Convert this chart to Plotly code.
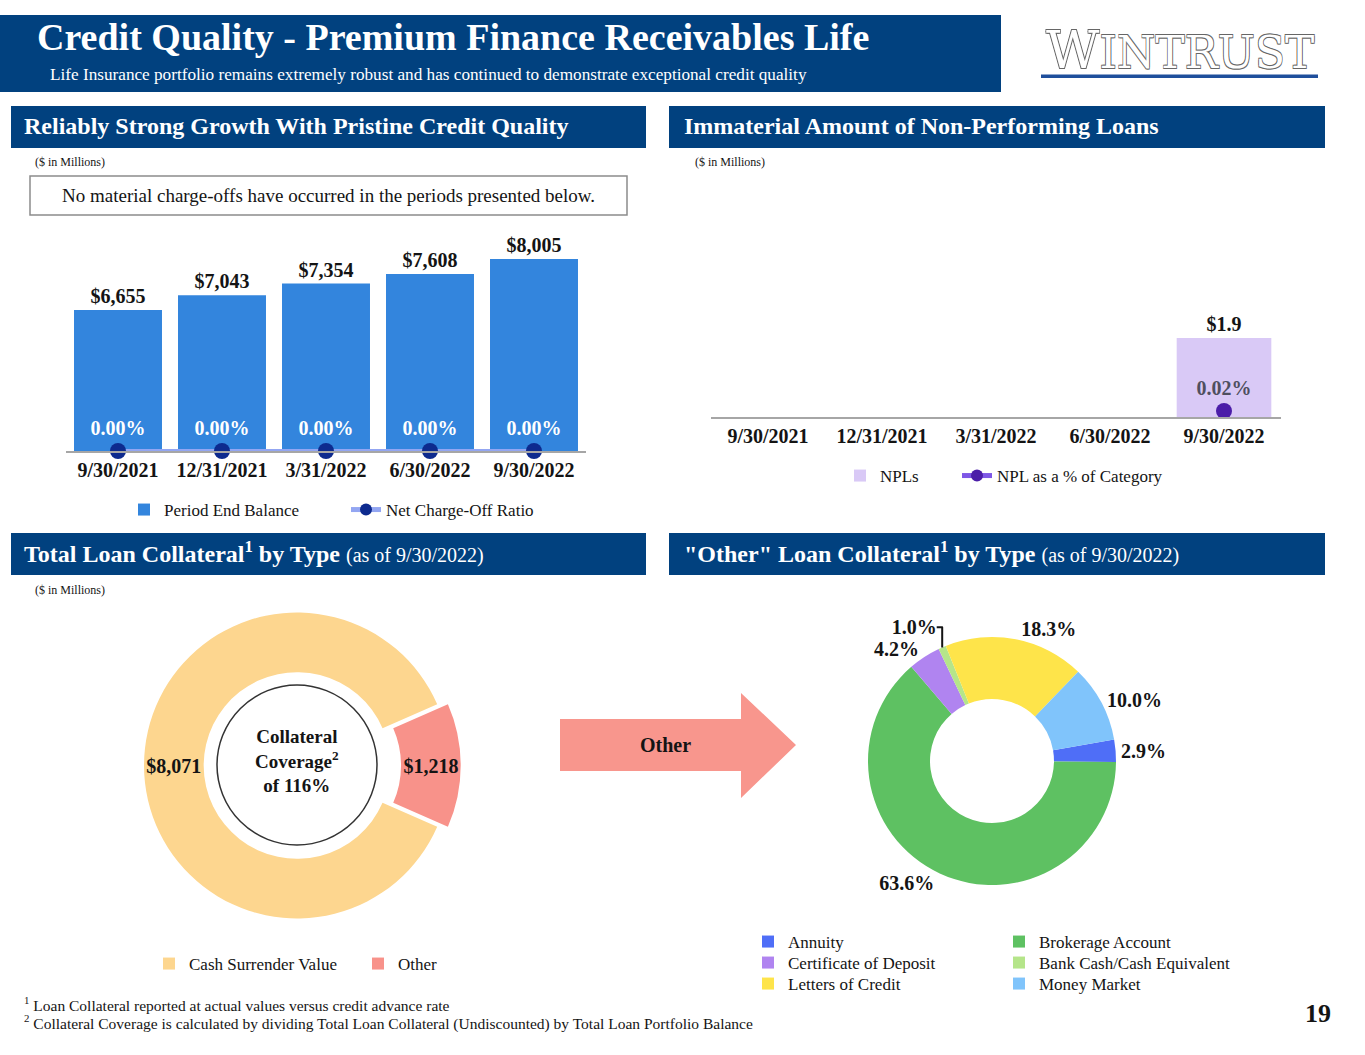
import plotly.graph_objects as go

W, H = 1365, 1055
def fx(x):
    return x / W
def fy(y):
    return 1 - y / H

FONT = "Liberation Serif, Times New Roman, serif"
NAVY = "#01417F"
INK = "#141414"

# ---------------- data ----------------
periods = ["9/30/2021", "12/31/2021", "3/31/2022", "6/30/2022", "9/30/2022"]
period_end_balance = [6655, 7043, 7354, 7608, 8005]
net_charge_off_ratio = [0.00, 0.00, 0.00, 0.00, 0.00]
npls = [0, 0, 0, 0, 1.9]
npl_pct = [None, None, None, None, 0.02]
collateral_labels = ["Cash Surrender Value", "Other"]
collateral_values = [8071, 1218]
collateral_coverage = 116
other_labels = ["Annuity", "Brokerage Account", "Certificate of Deposit",
                "Bank Cash/Cash Equivalent", "Letters of Credit", "Money Market"]
other_pcts = [2.9, 63.6, 4.2, 1.0, 18.3, 10.0]

# ---------------- styles ----------------
bar_blue = "#3385DD"
nco_line = "#93A6F2"
nco_marker = "#0D2A8E"
npl_bar = "#D9C9F6"
npl_line = "#7E57E6"
npl_marker = "#4B1DA8"
collateral_colors = ["#FDD68F", "#F8928A"]
other_colors = ["#4F6EF7", "#5EC162", "#B084F0", "#B5E58A", "#FEE44A", "#80C4FB"]

fig = go.Figure()

# Chart 1: period end balance bars + NCO ratio
fig.add_trace(go.Bar(
    x=periods, y=period_end_balance, name="Period End Balance",
    marker=dict(color=bar_blue, line=dict(width=0)), width=0.846,
    text=[f"${v:,}" for v in period_end_balance], textposition="outside",
    textfont=dict(family=FONT, size=20, color=INK, weight="bold"),
    cliponaxis=False, xaxis="x", yaxis="y", legend="legend", legendwidth=177,
    hoverinfo="skip"))
fig.add_trace(go.Scatter(
    x=periods, y=net_charge_off_ratio, name="Net Charge-Off Ratio",
    mode="lines+markers+text",
    line=dict(color=nco_line, width=4),
    marker=dict(color=nco_marker, size=16),
    text=[f"{v:.2f}%" for v in net_charge_off_ratio], textposition="top center",
    textfont=dict(family=FONT, size=20, color="white", weight="bold"),
    cliponaxis=False, xaxis="x", yaxis="y2", legend="legend", hoverinfo="skip"))

# Chart 2: NPLs
fig.add_trace(go.Bar(
    x=periods, y=npls, name="NPLs",
    marker=dict(color=npl_bar, line=dict(width=0)), width=0.83,
    text=[f"${v:.1f}" if v else None for v in npls], textposition="outside",
    textfont=dict(family=FONT, size=20, color=INK, weight="bold"),
    cliponaxis=False, xaxis="x2", yaxis="y3", legend="legend2", legendwidth=72,
    hoverinfo="skip"))
fig.add_trace(go.Scatter(
    x=periods, y=npl_pct, name="NPL as a % of Category",
    mode="lines+markers+text",
    line=dict(color=npl_line, width=4),
    marker=dict(color=npl_marker, size=16),
    text=[f"{v:.2f}%" if v is not None else None for v in npl_pct], textposition="top center",
    textfont=dict(family=FONT, size=20, color="#4F4F5F", weight="bold"),
    cliponaxis=False, xaxis="x2", yaxis="y4", legend="legend2", hoverinfo="skip"))

# Chart 3: total loan collateral donut
tot = sum(collateral_values)
rot1 = 450 - 360 * (collateral_values[0] + collateral_values[1] / 2) / tot
pull1 = 0.07
r1 = 153
half1 = r1 * (1 + pull1)
cx1, cy1 = 297, 765.5
fig.add_trace(go.Pie(
    labels=collateral_labels, values=collateral_values,
    hole=0.61, sort=False, direction="clockwise", rotation=rot1,
    pull=[0, pull1],
    marker=dict(colors=collateral_colors, line=dict(width=0)),
    text=[f"${v:,}" for v in collateral_values], textinfo="text",
    textposition="inside", insidetextorientation="horizontal",
    textfont=dict(family=FONT, size=20, color=INK, weight="bold"),
    domain=dict(x=[fx(cx1 - half1), fx(cx1 + half1)], y=[fy(cy1 + half1), fy(cy1 - half1)]),
    legend="legend3", legendwidth=164, showlegend=True, hoverinfo="skip"))

# Chart 4: "Other" collateral donut
r2 = 124
cx2, cy2 = 992, 761
fig.add_trace(go.Pie(
    labels=other_labels, values=other_pcts,
    hole=0.5, sort=False, direction="clockwise", rotation=80,
    marker=dict(colors=other_colors, line=dict(width=0)),
    text=[f"{v:.1f}%" for v in other_pcts], textinfo="text",
    textposition="outside",
    outsidetextfont=dict(family=FONT, size=20, color=INK, weight="bold"),
    domain=dict(x=[fx(cx2 - r2), fx(cx2 + r2)], y=[fy(cy2 + r2), fy(cy2 - r2)]),
    showlegend=False, hoverinfo="skip"))

# two-column legend for chart 4 (legend entries only), one legend per row
for i, (lab, col) in enumerate(zip(other_labels, other_colors)):
    fig.add_trace(go.Scatter(
        x=[None], y=[None], mode="markers", name=lab,
        marker=dict(symbol="square", size=15, color=col),
        legend=f"legend{4 + i // 2}",
        legendwidth=206 if i % 2 == 0 else None,
        xaxis="x", yaxis="y", hoverinfo="skip"))

# ---------------- shapes ----------------
shapes = []
def rect(x0, y0, x1, y1, fill, line=None, lw=0):
    shapes.append(dict(type="rect", xref="paper", yref="paper",
                       x0=fx(x0), x1=fx(x1), y0=fy(y1), y1=fy(y0),
                       fillcolor=fill, line=dict(color=line or fill, width=lw)))

rect(0, 15, 1001, 92, NAVY)
rect(11, 106, 646, 148, NAVY)
rect(669, 106, 1325, 148, NAVY)
rect(11, 533, 646, 575, NAVY)
rect(669, 533, 1325, 575, NAVY)
rect(1041, 74.5, 1318, 78, "#1F4F9C")
rect(30, 176, 627, 215, "white", "#8C8C8C", 1.5)
shapes.append(dict(type="circle", xref="paper", yref="paper",
                   x0=fx(217), x1=fx(377), y0=fy(845), y1=fy(685),
                   line=dict(color="#333333", width=1.5)))
arrow_pts = [(560, 719), (741, 719), (741, 693), (796, 745), (741, 798), (741, 771), (560, 771)]
path = "M " + " L ".join(f"{fx(x)},{fy(y)}" for x, y in arrow_pts) + " Z"
shapes.append(dict(type="path", xref="paper", yref="paper", path=path,
                   fillcolor="#F8968D", line=dict(width=0)))

# ---------------- annotations ----------------
ann = []
def text(x, y, s, size, color=INK, xanchor="left", bold=False, family=FONT, **kw):
    f = dict(family=family, size=size, color=color)
    if bold:
        f["weight"] = "bold"
    f.update(kw.pop("fontextra", {}))
    ann.append(dict(x=fx(x), y=fy(y), xref="paper", yref="paper", text=s,
                    showarrow=False, xanchor=xanchor, yanchor="middle",
                    font=f, align=kw.pop("align", "left"), **kw))

text(35, 37, "Credit Quality - Premium Finance Receivables Life", 38, "white", bold=True)
text(48, 74, "Life Insurance portfolio remains extremely robust and has continued to demonstrate exceptional credit quality", 17.2, "white")
text(1180, 50, "<span style='font-size:52px'>W</span>INTRUST", 44, "white", xanchor="center",
     family="DejaVu Serif, serif",
     fontextra=dict(shadow="-0.7px -0.7px 0 #666, 0.7px -0.7px 0 #666, -0.7px 0.7px 0 #666, 0.7px 0.7px 0 #666"))
text(22, 126, "Reliably Strong Growth With Pristine Credit Quality", 24, "white", bold=True)
text(682, 126, "Immaterial Amount of Non-Performing Loans", 24, "white", bold=True)
text(22, 552, "<b>Total Loan Collateral<sup>1</sup> by Type</b> <span style='font-size:20px'>(as of 9/30/2022)</span>", 24, "white")
text(682, 552, "<b>\"Other\" Loan Collateral<sup>1</sup> by Type</b> <span style='font-size:20px'>(as of 9/30/2022)</span>", 24, "white")
text(33, 162, "($ in Millions)", 12)
text(693, 162, "($ in Millions)", 12)
text(33, 590, "($ in Millions)", 12)
text(328.5, 195, "No material charge-offs have occurred in the periods presented below.", 19, xanchor="center")
text(297, 761, f"Collateral<br>Coverage<sup>2</sup><br>of {collateral_coverage}%", 19, xanchor="center", bold=True, align="center")
text(665, 745, "Other", 20, xanchor="center", bold=True)
text(22, 1004, "<sup>1</sup> Loan Collateral reported at actual values versus credit advance rate", 15.5)
text(22, 1022, "<sup>2</sup> Collateral Coverage is calculated by dividing Total Loan Collateral (Undiscounted) by Total Loan Portfolio Balance", 15.5)
text(1318, 1013, "19", 26, xanchor="center", bold=True)

# ---------------- layout ----------------
tickfont = dict(family=FONT, size=20, color=INK, weight="bold")
legfont = dict(family=FONT, size=17, color=INK)
hidden = dict(visible=False, showgrid=False, zeroline=False, fixedrange=True)

def hleg(x, y):
    return dict(orientation="h", x=fx(x), xanchor="left", y=fy(y), yanchor="middle",
                font=legfont, bgcolor="rgba(0,0,0,0)", itemsizing="constant")

fig.update_layout(
    width=W, height=H, margin=dict(l=0, r=0, t=0, b=0),
    paper_bgcolor="white", plot_bgcolor="rgba(0,0,0,0)",
    font=dict(family=FONT, color=INK),
    bargap=0.15, showlegend=True,
    xaxis=dict(domain=[fx(66), fx(586)], anchor="y", type="category",
               showline=True, linecolor="#A6A6A6", linewidth=2, ticks="",
               tickfont=tickfont, showgrid=False, zeroline=False, fixedrange=True),
    yaxis=dict(domain=[fy(451), fy(230)], range=[2923, 8773], anchor="x", **hidden),
    yaxis2=dict(overlaying="y", anchor="x", range=[0, 1], **hidden),
    xaxis2=dict(domain=[fx(711), fx(1281)], anchor="y3", type="category",
                showline=True, linecolor="#A6A6A6", linewidth=2, ticks="",
                tickfont=tickfont, showgrid=False, zeroline=False, fixedrange=True),
    yaxis3=dict(domain=[fy(417), fy(230)], range=[0, 4.5], anchor="x2", **hidden),
    yaxis4=dict(overlaying="y3", anchor="x2", range=[0, 0.62], **hidden),
    legend=hleg(124, 510),
    legend2=hleg(840, 476),
    legend3=hleg(149, 964),
    legend4=hleg(748, 942),
    legend5=hleg(748, 963),
    legend6=hleg(748, 984),
    shapes=shapes, annotations=ann,
)

fig.write_html("out.html", config={"displayModeBar": False, "staticPlot": True},
               post_script="document.body.style.margin='0';document.body.style.overflow='hidden';")
